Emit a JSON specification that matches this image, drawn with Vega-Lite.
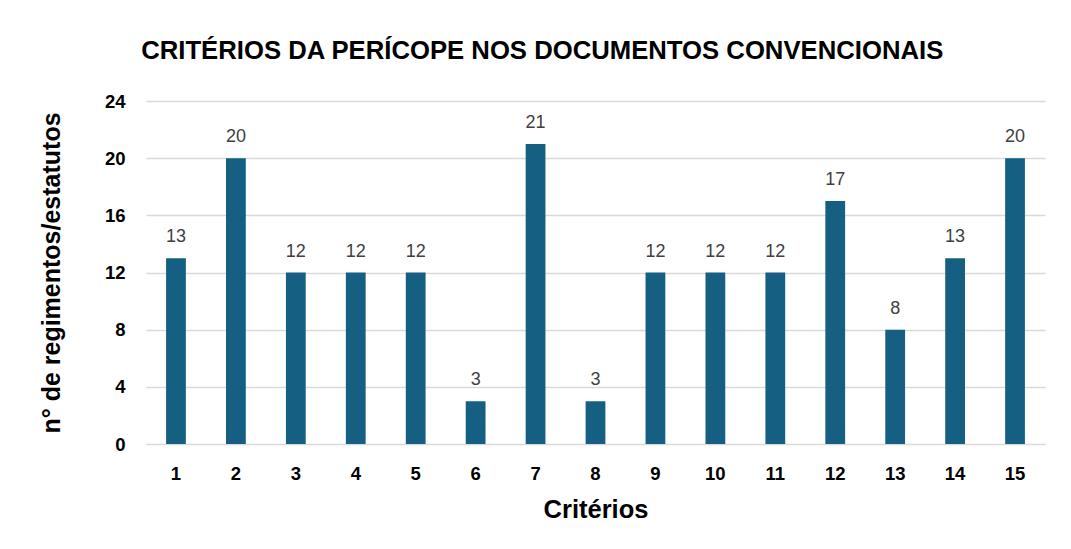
{
  "$schema": "https://vega.github.io/schema/vega-lite/v6.json",
  "width": 899,
  "height": 343,
  "padding": {"left": 39, "top": 38, "right": 20, "bottom": 20},
  "background": "white",
  "title": {
    "text": "CRITÉRIOS DA PERÍCOPE NOS DOCUMENTOS CONVENCIONAIS",
    "font": "Liberation Sans",
    "fontSize": 25.7,
    "fontWeight": "bold",
    "color": "#000000",
    "anchor": "middle",
    "frame": "bounds",
    "offset": 27
  },
  "data": {
    "values": [
      {"criterio": "1", "valor": 13},
      {"criterio": "2", "valor": 20},
      {"criterio": "3", "valor": 12},
      {"criterio": "4", "valor": 12},
      {"criterio": "5", "valor": 12},
      {"criterio": "6", "valor": 3},
      {"criterio": "7", "valor": 21},
      {"criterio": "8", "valor": 3},
      {"criterio": "9", "valor": 12},
      {"criterio": "10", "valor": 12},
      {"criterio": "11", "valor": 12},
      {"criterio": "12", "valor": 17},
      {"criterio": "13", "valor": 8},
      {"criterio": "14", "valor": 13},
      {"criterio": "15", "valor": 20}
    ]
  },
  "encoding": {
    "x": {
      "field": "criterio",
      "type": "ordinal",
      "sort": null,
      "scale": {"paddingInner": 0.67, "paddingOuter": 0.335},
      "axis": {
        "title": "Critérios",
        "titleFont": "Liberation Sans",
        "titleFontSize": 25.5,
        "titleFontWeight": "bold",
        "titleColor": "#000000",
        "titlePadding": 15,
        "labelFont": "Liberation Sans",
        "labelFontSize": 18.5,
        "labelFontWeight": "bold",
        "labelColor": "#000000",
        "labelAngle": 0,
        "labelPadding": 20,
        "domain": false,
        "ticks": false
      }
    },
    "y": {
      "field": "valor",
      "type": "quantitative",
      "scale": {"domain": [0, 24]},
      "axis": {
        "values": [0, 4, 8, 12, 16, 20, 24],
        "title": "n° de regimentos/estatutos",
        "titleFont": "Liberation Sans",
        "titleFontSize": 25,
        "titleFontWeight": "bold",
        "titleColor": "#000000",
        "titlePadding": 40,
        "labelFont": "Liberation Sans",
        "labelFontSize": 18.5,
        "labelFontWeight": "bold",
        "labelColor": "#000000",
        "labelPadding": 21,
        "domain": false,
        "ticks": false,
        "grid": true,
        "gridColor": "#d9d9d9",
        "gridWidth": 1.5
      }
    }
  },
  "layer": [
    {"mark": {"type": "bar", "color": "#156082"}},
    {
      "mark": {
        "type": "text",
        "baseline": "bottom",
        "dy": -12,
        "font": "Liberation Sans",
        "fontSize": 18,
        "color": "#404040"
      },
      "encoding": {"text": {"field": "valor", "type": "quantitative"}}
    }
  ],
  "config": {"view": {"stroke": null}}
}
